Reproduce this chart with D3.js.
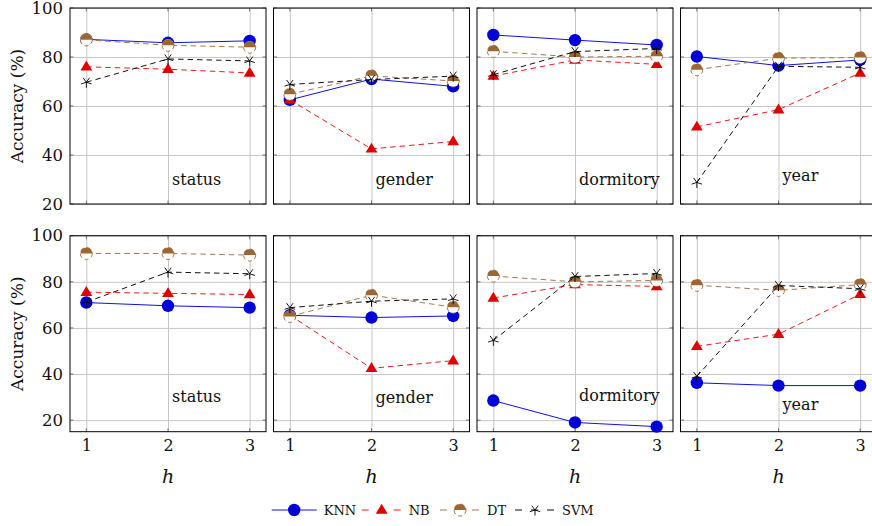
<!DOCTYPE html>
<html>
<head>
<meta charset="utf-8">
<script src="https://cdn.jsdelivr.net/npm/d3@7"></script>
<style>
  body { margin: 0; background: #fff; }
  svg { display: block; font-family: "DejaVu Serif", serif; }
</style>
</head>
<body>
<script>
// ---- data ----
const hValues = [1, 2, 3];
const attributes = ["status", "gender", "dormitory", "year"];
const models = ["KNN", "NB", "DT", "SVM"];
const yTicks = [20, 40, 60, 80, 100];

// top row, one array per attribute: values for h = 1, 2, 3
const knnTop = [[87.2, 85.8, 86.6], [62.5, 71, 68], [89, 86.9, 84.9], [80.2, 76.5, 78.8]];
const nbTop = [[76, 75, 73.5], [62.5, 42.5, 45.5], [72.2, 78.8, 77], [51.5, 58.5, 73.5]];
const dtTop = [[87, 84.8, 84], [64.8, 72.3, 70.2], [82.3, 80, 80.3], [74.8, 79.5, 79.8]];
const svmTop = [[69.7, 79.2, 78.4], [68.8, 70.8, 72.2], [72.8, 82.2, 83.5], [28.8, 76.2, 75.8]];

// bottom row
const knnBottom = [[71, 69.6, 68.8], [65.5, 64.5, 65.2], [28.5, 19, 17.2], [36.2, 35, 35]];
const nbBottom = [[75.5, 75, 74.5], [65.5, 42.5, 45.8], [73, 78.8, 78], [52, 57.3, 74.6]];
const dtBottom = [[92.3, 92.3, 91.6], [65, 74.2, 69], [82.5, 80, 80.6], [78.5, 76.3, 78.8]];
const svmBottom = [[71.2, 84.2, 83.5], [68.8, 71.6, 72.6], [54.6, 82.3, 83.6], [39, 78.4, 77]];

// ---- layout ----
const width = 872;
const height = 526;
const colLeft = [70, 273.5, 477, 680.5];
const panelW = 196;
const panelH = 196;
const rowTop = [8, 235.7];
const rowDomain = [[20, 100], [15, 100]];
const labelPos = [
  [[2.05, 27.8], [2.05, 27.8], [2.05, 27.8], [2.05, 29.2]],
  [[2.05, 27.8], [2.05, 27.4], [2.05, 28.1], [2.05, 24.5]]
];

const colors = { KNN: "#0000d8", NB: "#e00000", DT: "#9c6632", SVM: "#000" };
const lineColors = { KNN: "#1010e8", NB: "#ee1a1a", DT: "#a27a52", SVM: "#111" };

const rows = [
  { KNN: knnTop, NB: nbTop, DT: dtTop, SVM: svmTop },
  { KNN: knnBottom, NB: nbBottom, DT: dtBottom, SVM: svmBottom }
];

const svg = d3.select("body").append("svg")
  .attr("width", width)
  .attr("height", height)
  .attr("viewBox", [0, 0, width, height]);

const defs = svg.append("defs");

function drawMarker(g, model, cx, cy) {
  if (model === "KNN") {
    g.append("circle").attr("cx", cx).attr("cy", cy).attr("r", 6.2)
      .attr("fill", colors.KNN);
  } else if (model === "NB") {
    const s = 6.2;
    g.append("path")
      .attr("d", `M${cx},${cy - s}L${cx + s * 0.95},${cy + s * 0.6}L${cx - s * 0.95},${cy + s * 0.6}Z`)
      .attr("fill", colors.NB);
  } else if (model === "DT") {
    const r = 6;
    g.append("circle").attr("cx", cx).attr("cy", cy).attr("r", r)
      .attr("fill", "#fff").attr("stroke", colors.DT).attr("stroke-width", 0.9)
      .attr("stroke-dasharray", "4,3");
    g.append("path")
      .attr("d", `M${cx - r},${cy}A${r},${r} 0 0 1 ${cx + r},${cy}Z`)
      .attr("fill", colors.DT);
  } else {
    const len = 5.5;
    const d = d3.range(5).map(k => {
      const a = (90 + 72 * k) * Math.PI / 180;
      return `M${cx},${cy}L${cx + len * Math.cos(a)},${cy + len * Math.sin(a)}`;
    }).join("");
    g.append("path").attr("d", d).attr("stroke", colors.SVM)
      .attr("stroke-width", 0.9).attr("fill", "none");
  }
}

rows.forEach((rowData, ri) => {
  const y = d3.scaleLinear().domain(rowDomain[ri]).range([rowTop[ri] + panelH, rowTop[ri]]);

  attributes.forEach((attr, ci) => {
    const x = d3.scaleLinear().domain([0.8, 3.2]).range([colLeft[ci], colLeft[ci] + panelW]);
    const panel = svg.append("g");
    const clipId = `clip-${ri}-${ci}`;
    defs.append("clipPath").attr("id", clipId).append("rect")
      .attr("x", colLeft[ci]).attr("y", rowTop[ri])
      .attr("width", panelW).attr("height", panelH);

    // grid
    panel.append("g")
      .attr("transform", `translate(0,${rowTop[ri] + panelH})`)
      .call(d3.axisBottom(x).tickValues(hValues).tickSize(-panelH).tickFormat(""))
      .call(g => g.select(".domain").remove())
      .call(g => g.selectAll("line").attr("stroke", "#c6c6c6").attr("stroke-width", 1));
    panel.append("g")
      .attr("transform", `translate(${colLeft[ci]},0)`)
      .call(d3.axisLeft(y).tickValues(yTicks).tickSize(-panelW).tickFormat(""))
      .call(g => g.select(".domain").remove())
      .call(g => g.selectAll("line").attr("stroke", "#c6c6c6").attr("stroke-width", 1));

    // tick marks (inside, mirrored)
    const tickLen = 3.5;
    const tk = panel.append("g").attr("stroke", "#777").attr("stroke-width", 1);
    hValues.forEach(h => {
      tk.append("line").attr("x1", x(h)).attr("x2", x(h))
        .attr("y1", rowTop[ri] + panelH).attr("y2", rowTop[ri] + panelH - tickLen);
      tk.append("line").attr("x1", x(h)).attr("x2", x(h))
        .attr("y1", rowTop[ri]).attr("y2", rowTop[ri] + tickLen);
    });
    yTicks.forEach(t => {
      tk.append("line").attr("x1", colLeft[ci]).attr("x2", colLeft[ci] + tickLen)
        .attr("y1", y(t)).attr("y2", y(t));
      tk.append("line").attr("x1", colLeft[ci] + panelW).attr("x2", colLeft[ci] + panelW - tickLen)
        .attr("y1", y(t)).attr("y2", y(t));
    });

    // frame
    panel.append("rect")
      .attr("x", colLeft[ci]).attr("y", rowTop[ri])
      .attr("width", panelW).attr("height", panelH)
      .attr("fill", "none").attr("stroke", "#000").attr("stroke-width", 1);

    // y tick labels on first column
    if (ci === 0) {
      panel.append("g")
        .attr("transform", `translate(${colLeft[ci]},0)`)
        .call(d3.axisLeft(y).tickValues(yTicks).tickSize(0).tickPadding(7))
        .call(g => g.select(".domain").remove())
        .call(g => g.selectAll("text")
          .attr("font-family", "DejaVu Serif, serif")
          .attr("font-size", 16.5).attr("fill", "#111"));
    }
    // x tick labels on bottom row
    if (ri === 1) {
      panel.append("g")
        .attr("transform", `translate(0,${rowTop[ri] + panelH})`)
        .call(d3.axisBottom(x).tickValues(hValues).tickSize(0).tickPadding(8).tickFormat(d3.format("d")))
        .call(g => g.select(".domain").remove())
        .call(g => g.selectAll("text")
          .attr("font-family", "DejaVu Serif, serif")
          .attr("font-size", 16).attr("fill", "#111"));
      panel.append("text")
        .attr("x", colLeft[ci] + panelW / 2)
        .attr("y", 483)
        .attr("text-anchor", "middle")
        .attr("font-size", 19)
        .attr("font-style", "italic")
        .attr("fill", "#111")
        .text("h");
    }

    // attribute label
    panel.append("text")
      .attr("x", x(labelPos[ri][ci][0]))
      .attr("y", y(labelPos[ri][ci][1]))
      .attr("font-size", 16)
      .attr("fill", "#111")
      .text(attr);

    // series
    models.forEach(m => {
      const vals = rowData[m][ci];
      const pts = hValues.map((h, i) => [x(h), y(vals[i])]);
      panel.append("path")
        .attr("clip-path", `url(#${clipId})`)
        .attr("d", d3.line()(pts))
        .attr("fill", "none")
        .attr("stroke", lineColors[m])
        .attr("stroke-width", 1)
        .attr("stroke-dasharray", m === "KNN" ? null : "5.5,4");
      const mg = panel.append("g");
      pts.forEach(p => drawMarker(mg, m, p[0], p[1]));
    });
  });
});

// y axis titles
rowTop.forEach(t => {
  svg.append("text")
    .attr("transform", `translate(23,${t + panelH / 2}) rotate(-90)`)
    .attr("text-anchor", "middle")
    .attr("font-size", 17)
    .attr("fill", "#111")
    .text("Accuracy (%)");
});

// legend
const legendX = [271.7, 361.7, 440, 515];
const legendY = 510;
models.forEach((m, i) => {
  const g = svg.append("g");
  const x0 = legendX[i];
  const len = m === "KNN" ? 45 : 40;
  g.append("line")
    .attr("x1", x0).attr("x2", x0 + len)
    .attr("y1", legendY).attr("y2", legendY)
    .attr("stroke", lineColors[m]).attr("stroke-width", 1)
    .attr("stroke-dasharray", m === "KNN" ? null : "7,9");
  drawMarker(g, m, x0 + len / 2, legendY);
  g.append("text")
    .attr("x", x0 + len + 7)
    .attr("y", legendY)
    .attr("dy", "0.35em")
    .attr("font-size", 13)
    .attr("fill", "#111")
    .text(m);
});
</script>
</body>
</html>
